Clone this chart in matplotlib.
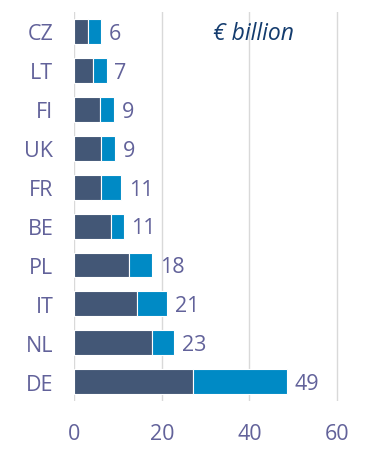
import matplotlib.pyplot as plt
import numpy as np

# data (top to bottom)
countries = ["CZ", "LT", "FI", "UK", "FR", "BE", "PL", "IT", "NL", "DE"]
dark_part = [3.1, 4.3, 5.9, 6.1, 6.1, 8.4, 12.5, 14.3, 17.8, 27.0]
totals = [6.1, 7.4, 9.1, 9.3, 10.7, 11.3, 17.8, 21.2, 22.8, 48.6]
total_labels = ["6", "7", "9", "9", "11", "11", "18", "21", "23", "49"]
xticks = [0, 20, 40, 60]

plt.rcParams['font.family'] = ['Open Sans', 'DejaVu Sans']

TEXT_COL = "#62629a"
DARK = "#435776"
BLUE = "#008ac5"

fig = plt.figure(figsize=(3.79, 4.56), dpi=100)
ax = fig.add_axes([0.196, 0.118, 0.728, 0.8535])

y = np.arange(len(countries))[::-1]
light_part = [t - d for t, d in zip(totals, dark_part)]

ax.barh(y, dark_part, height=0.64, color=DARK, edgecolor="white", linewidth=0.8, zorder=3)
ax.barh(y, light_part, left=dark_part, height=0.64, color=BLUE, edgecolor="white", linewidth=0.8, zorder=3)

for yi, t, lab in zip(y, totals, total_labels):
    ax.text(t + 1.7, yi - 0.05, lab, va="center", ha="left", fontsize=15.5, color=TEXT_COL)

ax.text(41, 8.97, "€ billion", ha="center", va="center", fontsize=16.5, style="italic", color="#143c6e")

ax.set_xlim(0, 63)
ax.set_ylim(-0.5, 9.5)
ax.set_yticks(y)
ax.set_yticklabels(countries)
ax.set_xticks(xticks)
ax.tick_params(axis="both", length=0, labelsize=15.5, labelcolor=TEXT_COL)
ax.tick_params(axis="x", pad=16)
ax.tick_params(axis="y", pad=15)

ax.grid(axis="x", color="#d9d9d9", linewidth=1.0, zorder=0)
for s in ax.spines.values():
    s.set_visible(False)

fig.savefig("out.png", dpi=100)
